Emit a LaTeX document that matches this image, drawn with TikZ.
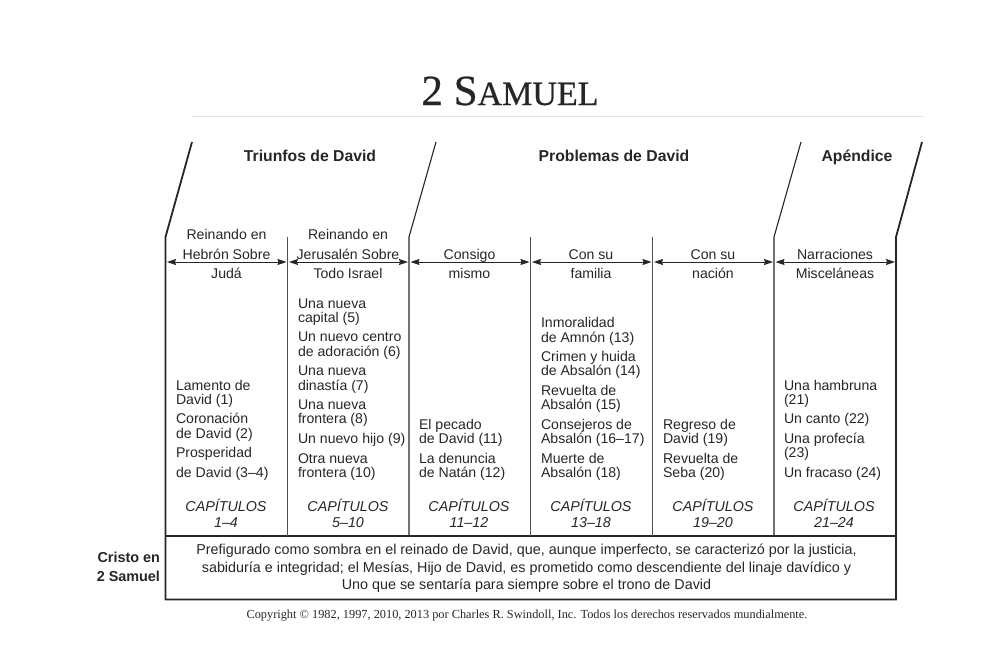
\documentclass[tikz,border=0pt]{standalone}
\usepackage{fontspec}
\setmainfont{Liberation Sans}
\newfontfamily\serifface{Liberation Serif}
\newfontfamily\titleface[FakeBold=0.6]{Liberation Serif}
\usetikzlibrary{arrows.meta}
\definecolor{ink}{gray}{0.15}
\tikzset{
  x=1pt,y=-1pt,
  every node/.style={inner sep=0pt,outer sep=0pt,text=ink},
  bodytxt/.style={font=\fontsize{14.1}{15}\selectfont},
  cen/.style={bodytxt,anchor=base},
  lft/.style={bodytxt,anchor=base west},
  wide/.style={anchor=base,font=\fontsize{14.35}{15}\selectfont},
  chapt/.style={anchor=base,font=\fontsize{14.3}{15}\selectfont\itshape},
  headtxt/.style={anchor=base,font=\fontsize{15.75}{17}\selectfont\bfseries},
  sidetxt/.style={anchor=base east,font=\fontsize{14.4}{15}\selectfont\bfseries},
  frameline/.style={draw=ink,line width=1.8pt},
  slantline/.style={draw=ink,line width=1.1pt},
  divider/.style={draw=ink!80,line width=1.4pt},
  spanarrow/.style={draw=ink,line width=.9pt,{Stealth[length=9pt,width=6pt,inset=1pt]}-{Stealth[length=9pt,width=6pt,inset=1pt]},shorten >=1pt,shorten <=1.5pt},
}
\begin{document}
\begin{tikzpicture}
\useasboundingbox (0,0) rectangle (1003,651);
\node[anchor=base,font=\titleface\fontsize{43}{43}\selectfont,text=ink] (title) at (510,105) {2 S\fontsize{34}{34}\selectfont AMUEL};
\coordinate (ruleL) at (192,116.5); \coordinate (ruleR) at (924,116.5);
\draw[black!10,line width=.8pt] (ruleL) -- (ruleR);
% frame coordinates
\foreach \n/\x in {a/165.5,b/287.5,c/409,d/530.5,e/652.5,f/774,g/896}{
  \coordinate (\n top) at (\x,237);
  \coordinate (\n bot) at (\x,536);
  \coordinate (\n arr) at (\x,262);
}
\foreach \n/\x in {a/192,c/436,f/801,g/922}{\coordinate (\n sl) at (\x,142);}
\coordinate (boxBL) at (165.5,599.5); \coordinate (boxBR) at (896,599.5);
% frame
\draw[frameline] (asl) -- (atop) -- (boxBL) -- (boxBR) -- (gtop) -- (gsl);
\draw[frameline] (abot) -- (gbot);
\draw[slantline] (csl) -- (ctop) -- (cbot);
\draw[slantline] (fsl) -- (ftop) -- (fbot);
\foreach \n in {b,d,e}{\draw[divider] (\n top) -- (\n bot);}
% spans
\draw[spanarrow] (aarr) -- (barr);
\draw[spanarrow] (barr) -- (carr);
\draw[spanarrow] (carr) -- (darr);
\draw[spanarrow] (darr) -- (earr);
\draw[spanarrow] (earr) -- (farr);
\draw[spanarrow] (farr) -- (garr);
% headers
\node[headtxt] (h1) at (310,161) {Triunfos de David};
\node[headtxt] (h2) at (614,161) {Problemas de David};
\node[headtxt] (h3) at (857,161) {Apéndice};
% column heads
\node[cen] (c1a) at (226.5,239) {Reinando en};
\node[cen] (c1b) at (226.5,259) {Hebrón Sobre};
\node[cen] (c1c) at (226.5,278) {Judá};
\node[cen] (c2a) at (348,239) {Reinando en};
\node[cen] (c2b) at (348,259) {Jerusalén Sobre};
\node[cen] (c2c) at (348,278) {Todo Israel};
\node[cen] (c3a) at (469.5,259) {Consigo};
\node[cen] (c3b) at (469.5,278) {mismo};
\node[cen] (c4a) at (591,259) {Con su};
\node[cen] (c4b) at (591,278) {familia};
\node[cen] (c5a) at (713,259) {Con su};
\node[cen] (c5b) at (713,278) {nación};
\node[cen] (c6a) at (835,259) {Narraciones};
\node[cen] (c6b) at (835,278) {Misceláneas};
% column 1
\foreach \i/\y/\t in {1/390/{Lamento de},2/404/{David (1)},3/423/{Coronación},4/438/{de David (2)},5/457/{Prosperidad},6/477/{de David (3–4)}}
  {\node[lft] (p1-\i) at (176,\y) {\t};}
% column 2
\foreach \i/\y/\t in {1/308/{Una nueva},2/322/{capital (5)},3/341/{Un nuevo centro},4/356/{de adoración (6)},5/375/{Una nueva},6/390/{dinastía (7)},7/409/{Una nueva},8/423/{frontera (8)},9/443/{Un nuevo hijo (9)},10/463/{Otra nueva},11/477/{frontera (10)}}
  {\node[lft] (p2-\i) at (298,\y) {\t};}
% column 3
\foreach \i/\y/\t in {1/429/{El pecado},2/443/{de David (11)},3/463/{La denuncia},4/477/{de Natán (12)}}
  {\node[lft] (p3-\i) at (419,\y) {\t};}
% column 4
\foreach \i/\y/\t in {1/327/{Inmoralidad},2/342/{de Amnón (13)},3/361/{Crimen y huida},4/375/{de Absalón (14)},5/395/{Revuelta de},6/409/{Absalón (15)},7/429/{Consejeros de},8/443/{Absalón (16–17)},9/463/{Muerte de},10/477/{Absalón (18)}}
  {\node[lft] (p4-\i) at (541,\y) {\t};}
% column 5
\foreach \i/\y/\t in {1/429/{Regreso de},2/443/{David (19)},3/463/{Revuelta de},4/477/{Seba (20)}}
  {\node[lft] (p5-\i) at (663,\y) {\t};}
% column 6
\foreach \i/\y/\t in {1/390/{Una hambruna},2/404/{(21)},3/423/{Un canto (22)},4/443/{Una profecía},5/457/{(23)},6/477/{Un fracaso (24)}}
  {\node[lft] (p6-\i) at (784,\y) {\t};}
% chapters
\foreach \i/\x/\t in {1/226/{1–4},2/348/{5–10},3/469/{11–12},4/591/{13–18},5/713/{19–20},6/834/{21–24}}{
  \node[chapt] (k\i) at (\x,511) {CAPÍTULOS};
  \node[chapt] (r\i) at (\x,527) {\t};
}
% bottom
\node[sidetxt] (s1) at (160,562) {Cristo en};
\node[sidetxt] (s2) at (160,581) {2 Samuel};
\node[wide] (b1) at (526.5,554.5) {Prefigurado como sombra en el reinado de David, que, aunque imperfecto, se caracterizó por la justicia,};
\node[wide] (b2) at (526.5,572) {sabiduría e integridad; el Mesías, Hijo de David, es prometido como descendiente del linaje davídico y};
\node[wide] (b3) at (526.5,589.5) {Uno que se sentaría para siempre sobre el trono de David};
\node[anchor=base,font=\serifface\fontsize{12.33}{14}\selectfont] (copy) at (527,618) {Copyright © 1982, 1997, 2010, 2013 por Charles R. Swindoll, Inc. Todos los derechos reservados mundialmente.};
\end{tikzpicture}
\end{document}
